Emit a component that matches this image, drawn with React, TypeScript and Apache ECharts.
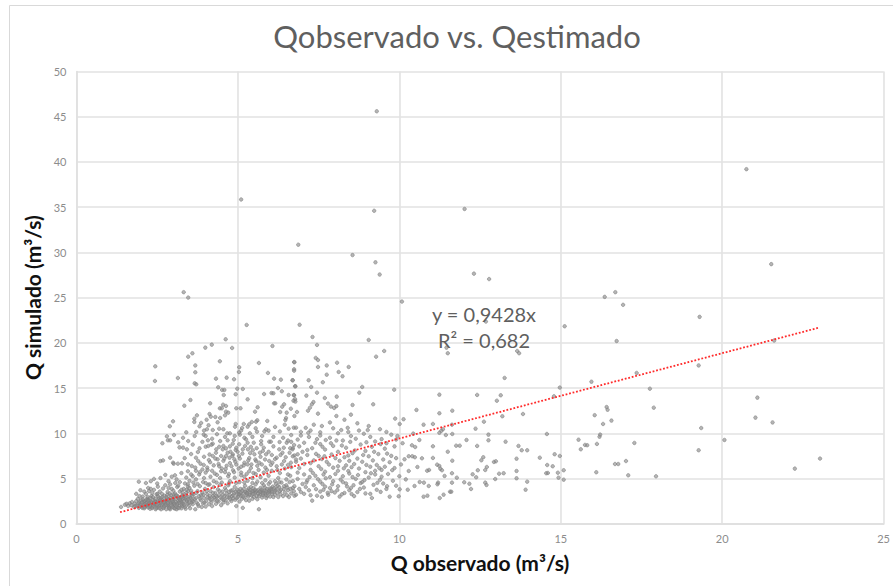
import React, { useEffect, useRef } from "react";
import * as echarts from "echarts";

type P = [number, number];

const chartTitle = "Qobservado vs. Qestimado";
const xAxisName = "Q observado (m³/s)";
const yAxisName = "Q simulado (m³/s)";
const equationLines = ["y = 0,9428x", "R² = 0,682"];
const trendLine: P[] = [[1.35, 1.27], [23.0, 21.68]];

const outliers: P[] = [[9.3,45.6],[5.1,35.85],[9.22,34.6],[6.87,30.85],[8.55,29.7],[9.26,28.9],[9.39,27.55],[3.32,25.6],[3.46,25],[12.02,34.8],[20.75,39.2],[12.31,27.65],[12.78,27.05],[21.52,28.7],[16.36,25.08],[16.69,25.6],[16.93,24.2],[19.3,22.87],[16.73,20.2],[21.61,20.25],[19.27,17.5],[17.35,16.67],[15.95,15.7],[17.76,14.93],[16.42,12.9],[16.45,12.6],[17.88,12.83],[16.05,12],[16.57,11.4],[16.31,11.03],[19.35,10.58],[16.22,9.85],[16.2,9.62],[16.12,8.82],[17.28,8.93],[19.27,8.12],[20.07,9.26],[16.68,6.6],[16.78,6.6],[17.02,6.93],[16.1,5.69],[17.09,5.35],[17.95,5.24],[21.09,13.94],[21.03,11.73],[21.56,11.2],[22.25,6.09],[23.03,7.2]];

const rightCloud: P[] = [[10.08,24.56],[6.91,22],[12.68,22.35],[15.12,21.83],[7.31,20.65],[7.45,19.77],[9.05,20.32],[9.53,19.1],[9.28,18.47],[11.46,19.47],[11.5,18.85],[13.65,19.1],[13.71,18.85],[7.41,18.33],[7.48,18.1],[6.74,17.88],[8.07,17.8],[7.75,17.5],[7.48,17.33],[6.74,17.08],[8.43,17.33],[8.12,16.78],[8.24,16.3],[7.75,16.48],[7.19,15.86],[6.69,15.86],[13.26,16.12],[7.63,15.64],[8.85,15.12],[6.77,15.2],[7.27,15.12],[9.84,14.82],[14.97,15.05],[14.79,14.09],[8.76,14.49],[7.45,14.49],[12.41,14.24],[11.24,14.27],[13.14,14.2],[7.12,14.16],[8.06,14.05],[7.69,13.9],[6.74,14.2],[6.77,13.77],[6.72,13.6],[13.02,13.6],[7.34,13.45],[7.29,13.2],[7.23,12.83],[7.17,12.5],[7.79,13.28],[7.88,12.95],[7.98,12.8],[8.05,13],[8.55,13.13],[9.19,13.2],[10.53,12.58],[11.64,12.5],[11.24,12.21],[13.83,12.13],[13.19,11.88],[7.48,12.17],[8.05,11.91],[8.5,12.06],[9.87,11.62],[10.13,11.55],[10.01,11.03],[10.75,10.95],[11.04,11.03],[12.62,11.28],[11.63,10.95],[12.36,10.51],[14.57,9.92],[12.76,9.85],[11.35,10.44],[11.3,10.27],[11.24,10.05],[11.44,9.81],[11.64,9.92],[10.43,9.96],[9.94,9.7],[10.62,9.26],[12.76,9.22],[12.08,9.26],[13.29,9.07],[15.55,9.29],[15.75,8.71],[15.62,8.23],[15.82,8.68],[13.69,8.6],[10.39,8.67],[10.49,8.48],[11.04,8.56],[11.76,8.63],[11.87,8.63],[12.41,8.6],[11.5,7.96],[13.79,8.12],[13.96,8.12],[14.81,7.68],[14.97,7.49],[14.35,7.3],[13.63,7.19],[12.6,7.35],[12.54,7.01],[12.93,6.83],[12.99,6.9],[10.16,7.12],[10.29,7.46],[10.4,7.46],[10.48,7.35],[10.7,7.23],[11.04,7.27],[11.64,6.97],[14.58,6.49],[14.75,6.35],[11.17,6.53],[11.24,6.38],[11.27,6.08],[11.32,5.91],[10.92,5.94],[10.86,5.86],[12.71,6.27],[12.66,5.94],[12.43,5.91],[15.09,5.91],[14.91,5.64],[14.6,5.61],[14.55,5.58],[13.63,5.83],[13.23,5.58],[13.09,5.53],[10.29,5.83],[10.56,6.27],[11.63,5.58],[12.27,5.46],[12.38,5.13],[13.63,5.02],[12.97,4.94],[11.78,5.09],[11.4,5.28],[11.2,4.54],[11.18,4.36],[11.63,4.54],[12.01,4.58],[12.17,4.42],[12.66,4.54],[12.7,4.28],[13.96,4.65],[13.91,3.76],[14.93,5.09],[15.09,4.87],[12.22,3.84],[10.91,4.17],[10.76,4.54],[10.63,4.61],[10.47,4.17],[10.26,3.76],[10.01,3.8],[9.98,3.03],[9.7,2.99],[10.75,2.99],[10.87,3.1],[11.25,2.84],[11.37,3.21],[11.57,3.54],[11.61,3.54]];

const midCloud: P[] = [[7.85,11.2],[8.3,11.5],[8.7,11.1],[9.05,10.8],[7.35,10.95],[7.6,10.8],[7.95,10.55],[8.4,10.6],[8.75,10.3],[9.4,10.45],[9.75,9.85],[7.1,10.6],[7.25,10.3],[6.95,10.15],[7.55,10.1],[8.1,10],[8.5,9.7],[8.9,9.95],[9.1,9.6],[9.45,9.35],[7.2,9.6],[7.45,9.35],[7.85,9.5],[8.25,9.2],[8.65,9.4],[9.25,9.1],[9.6,8.9],[9.9,9.3],[6.85,9.3],[7.05,8.95],[7.55,8.8],[7.95,8.6],[8.35,8.4],[8.8,8.75],[9.15,8.5],[9.55,8.3],[9.85,8.55],[10.1,8.9],[6.9,8.55],[7.3,8.35],[7.7,8.2],[8.1,7.95],[8.55,7.8],[8.95,8.05],[9.35,7.7],[9.75,7.5],[7,7.95],[7.15,7.6],[7.5,7.5],[7.9,7.65],[8.3,7.35],[8.7,7.2],[9.05,7.45],[9.5,7.1],[9.9,7.25],[6.95,7.2],[7.35,7],[7.75,6.85],[8.15,6.95],[8.6,6.6],[8.85,6.85],[9.3,6.5],[9.7,6.8],[10.05,6.55],[7.05,6.6],[7.5,6.35],[7.95,6.2],[8.35,6.45],[8.75,6.1],[9.1,6.3],[9.45,5.95],[9.85,6.15],[6.9,6.15],[7.25,5.95],[7.7,5.75],[8.1,5.85],[8.45,5.55],[8.95,5.7],[9.25,5.45],[9.65,5.5],[10,5.25],[7.05,5.45],[7.4,5.3],[7.85,5.15],[8.25,5.25],[8.65,4.95],[9.05,5.1],[9.4,4.85],[9.8,4.75],[10.2,4.9],[6.85,4.95],[7.15,4.8],[7.55,4.65],[7.95,4.7],[8.35,4.45],[8.8,4.5],[9.2,4.3],[9.5,4.45],[9.9,4.2],[7,4.4],[7.35,4.25],[7.7,4.1],[8.1,4.15],[8.5,3.95],[8.9,4],[9.3,3.75],[9.6,3.85],[6.9,3.85],[7.2,3.7],[7.55,3.55],[7.9,3.6],[8.3,3.4],[8.7,3.5],[9.1,3.3],[7.05,3.3],[7.45,3.1],[7.8,3.2],[8.15,3],[8.6,3.05],[9.15,2.85],[7.3,2.55],[7.6,2.95],[8,3.45],[8.45,3.7],[8.85,4.6],[7.65,5.45],[7.25,6.7],[7.6,7.15],[8.45,6.95],[8.1,6.35],[7.15,8.15],[7.4,8.95],[6.95,9.75],[7.55,9.75],[8.05,9.2],[6.85,5.65],[6.8,6.85],[6.75,7.55],[6.7,8.35],[6.65,9.05],[9.6,10.15],[8.2,10.35],[9.25,5.85],[8.55,5.15],[9.55,6.3],[7.85,3.95],[8.25,4.6],[7.1,4.05],[6.95,3.5],[7.65,3.75],[7.25,3.15],[6.8,3.2],[6.75,4.15],[6.7,4.7],[6.62,5.3]];

const midExtra: P[] = [[7.22,5.15],[7.48,4.92],[7.72,5.02],[7.92,4.35],[8.02,5.5],[8.18,4.88],[8.42,5.82],[8.58,4.25],[8.72,5.38],[8.92,4.82],[9.12,5.58],[9.32,4.52],[9.45,5.2],[9.62,4.15],[9.78,5.92],[7.12,4.55],[7.42,3.82],[7.62,4.38],[7.78,3.42],[8.08,3.72],[8.22,3.25],[8.38,4.12],[8.52,3.28],[8.78,3.85],[8.95,3.35],[9.42,3.52],[7.32,5.62],[7.58,6.05],[7.82,6.55],[8.28,6.12],[8.52,6.25],[8.98,6.5],[9.18,7],[9.38,6.15],[7.42,7.72],[7.68,7.45],[8.02,7.25],[8.42,7.55],[8.62,8.1],[8.88,7.6],[9.22,7.95],[9.62,7.75],[7.62,8.5],[7.88,8.9],[8.22,8.65],[8.48,9.05],[8.98,9],[9.42,8.8],[7.18,10.05],[7.72,9.25],[8.42,10.15],[9.02,10.35]];

const upperCloud: P[] = [[5.27,21.98],[4.62,20.39],[4.19,19.8],[3.99,19.47],[4.82,19.43],[6.07,19.65],[3.59,18.84],[3.46,18.47],[4.44,17.96],[5.65,17.77],[6.75,17.85],[2.44,17.4],[3.68,17.5],[5.04,17.3],[5.03,16.78],[3.68,16.74],[5.93,16.67],[6.74,16.92],[3.14,16.11],[4.32,16.04],[4.65,16.15],[4.88,15.97],[6.12,16.04],[6.33,15.93],[6.7,15.86],[2.43,15.78],[3.66,15.52],[3.71,15.41],[4.39,15.08],[4.98,14.93],[5.15,14.9],[6.24,15],[6.78,15.19],[4.51,14.79],[4.58,14.79],[6.36,14.64],[6.04,14.45],[6.1,14.42],[4.56,14.23],[4.93,14.31],[5.81,14.34],[6.57,14.23],[6.73,14.23],[5.3,13.75],[3.53,13.68],[6.12,13.31],[6.16,13.31],[6.78,13.5],[4.14,13.31],[3.34,13.05],[4.54,13.16],[4.63,13.02],[6.43,13.2],[6.37,12.94],[5.61,12.87],[4.44,12.76],[4.5,12.76],[4.95,12.76],[5.08,12.76],[5.53,12.39],[6.31,12.35],[6.51,12.28],[6.64,12.72],[6.83,12.35],[4.12,12.13],[3.73,11.98],[4.63,12.39],[4.7,12.28],[4.6,11.98],[4.16,11.84],[4.3,11.8],[4.03,11.5],[3.65,11.61],[3.65,11.25],[2.99,11.32],[4.45,11.69],[5.91,11.36],[5.6,11.43],[5.56,11.28],[5.43,11.25],[6.49,11.69],[6.47,11.47],[6.75,11.91],[2.89,10.77],[3.86,11.14],[3.81,10.77],[4.09,10.88],[4.04,10.44],[4.37,11.21],[4.22,10.36],[4.93,11.03],[4.91,10.73],[5.18,11.03],[5.13,10.58],[5.35,10.99],[5.3,10.73],[6.57,10.51],[6.73,10.62],[6.8,10.62],[5.87,10.44],[5.82,10.21],[5.95,10.29],[4.42,10.51],[4.55,10.44],[4.75,9.99],[4.67,9.99],[5.06,9.85],[5.04,10.07],[5.37,9.99],[5.59,10.18],[3.71,10.14],[3.66,9.7],[2.8,9.66],[3.02,9.81],[3.94,9.85],[4,9.7],[2.83,9.22],[2.9,9.22],[2.66,8.89],[3.46,9.14],[4.07,9.22],[4.45,9.14],[4.68,9.22],[4.22,8.85],[4.87,9.26],[4.84,8.85],[5.04,8.78],[5.25,9.33],[5.3,8.96],[5.49,8.96],[5.72,9.14],[5.72,8.78],[5.97,9.07],[6.02,9.07],[6.29,9.03],[6.51,8.96],[6.74,8.7],[6.69,8.22],[3.19,8.44],[3.3,8.41],[3.42,8.22],[4,8.52],[4.08,8.59],[4.18,8.74],[3.81,8.33],[3.76,7.93],[4.33,8.22],[4.53,8.22],[4.63,8.33],[4.99,7.96],[4.93,8.15],[4.77,7.96],[4.84,7.67],[5.15,8.22],[5.31,8.22],[5.77,8.04],[5.87,7.67],[5.46,8.11],[5.51,7.67],[6.28,8.22],[6.38,7.85],[6.6,7.85],[6.85,7.67],[2.9,7.3],[2.6,6.93],[2.68,7],[3.14,6.64],[3.27,6.67],[2.99,6.75],[3.01,6.64],[3.45,6.56],[3.57,6.38],[3.77,6.93],[3.84,6.64],[4.1,7.04],[4.22,7.49],[4.37,7.12],[4.48,7.49],[4.63,7.49],[4.74,7.3],[4.89,7.12],[5.03,7.49],[5.2,6.75],[5.3,6.56],[5.56,6.93],[5.66,6.75],[5.97,6.93],[6.07,6.75],[6.43,6.93],[6.64,6.75],[6.8,7.1],[6.2,7.3],[6.05,7.6],[5.7,7.4],[5.35,7.25],[4.55,6.95],[4.4,6.6],[4.65,6.4],[4.25,6.45],[4.05,6.2],[3.9,6],[4.5,6.1],[4.75,6.7],[4.95,6.55],[5.1,6.3],[5.4,6.15],[5.6,6.4],[5.85,6.2],[6.2,6.35],[6.45,6.1],[6.65,6.25],[3.7,5.85],[3.45,5.8],[3.25,5.6],[3.05,5.35],[2.95,5.2],[2.75,5.4],[2.6,5.05],[2.4,4.95],[1.93,4.65],[2.3,4.7],[2.15,4.5],[2.5,4.45],[2.85,4.7],[3.1,4.9],[3.4,5.1],[3.6,5.25],[3.8,5.45],[4,5.65],[4.2,5.85],[4.35,5.4],[4.6,5.7],[4.85,5.9],[5.1,5.65],[5.35,5.8],[5.55,5.5],[5.8,5.65],[6.05,5.85],[6.3,5.6],[6.55,5.45],[3.2,4.6],[3.5,4.75],[3.7,4.9],[3.95,5.05],[4.15,5.2],[4.45,5.05],[4.7,5.25],[4.9,5.1],[5.2,5.2],[5.45,5.05],[5.7,5.15],[5.95,5.3],[6.25,5.05],[6.5,4.9],[6.15,4.7],[5.85,4.8],[5.6,4.65],[5.3,4.75],[5.05,4.6],[4.75,4.7],[4.5,4.55],[4.25,4.7],[4,4.5],[3.75,4.4],[3.45,4.35],[3.15,4.2],[2.9,4.35]];

const lowerBand: P[] = [[1.38,1.85],[1.5,2.1],[1.55,2.2],[1.6,1.95],[1.65,2.25],[1.7,2.05],[1.72,2.4],[1.78,1.85],[1.8,2.2],[1.85,2.5],[1.88,2],[1.9,2.75],[1.93,1.75],[1.95,2.35],[2,2.6],[2.02,1.9],[2.05,3],[2.08,2.2],[2.1,1.7],[2.12,2.5],[2.15,3.3],[2.18,1.95],[2.2,2.75],[2.22,2.1],[2.25,3.6],[2.28,1.65],[2.3,2.4],[2.32,3.05],[2.35,1.85],[2.38,2.65],[2.4,3.75],[2.42,2.1],[2.45,1.6],[2.48,3.25],[2.5,2.4],[2.52,1.85],[2.55,2.85],[2.58,3.55],[2.6,2.05],[2.62,1.6],[2.65,2.6],[2.68,3.9],[2.7,1.85],[2.72,3.1],[2.75,2.25],[2.78,1.6],[2.8,2.8],[2.82,3.5],[2.85,1.95],[2.88,2.45],[2.9,1.6],[2.92,3.15],[2.95,3.85],[2.98,2.15],[3,2.7],[3.02,1.75],[3.05,3.35],[3.08,2.4],[3.1,1.6],[3.12,4.05],[3.15,2.9],[3.18,2],[3.2,3.55],[3.22,2.55],[3.25,1.7],[3.28,3.15],[3.3,2.2],[3.32,3.85],[3.35,2.75],[3.38,1.65],[3.4,3.4],[3.42,2.45],[3.45,4.1],[3.48,2],[3.5,3],[3.52,1.7],[3.55,3.65],[3.58,2.6],[3.6,2.15],[3.62,3.25],[3.65,4.2],[3.68,1.6],[3.7,2.85],[3.72,2.35],[3.75,3.6],[3.78,1.95],[3.8,3.05],[3.82,4.15],[3.85,2.6],[3.88,1.85],[3.9,3.45],[3.92,2.25],[3.95,2.85],[3.98,3.85],[4,1.9],[4.02,2.5],[4.05,3.25],[4.08,4.3],[4.1,2.15],[4.12,2.8],[4.15,3.6],[4.18,2.4],[4.2,1.95],[4.22,3.05],[4.25,4.05],[4.28,2.65],[4.3,3.4],[4.32,2.2],[4.35,2.95],[4.38,3.8],[4.4,2.45],[4.42,3.2],[4.45,4.3],[4.48,2.05],[4.5,2.75],[4.52,3.55],[4.55,2.35],[4.58,3.05],[4.6,3.95],[4.62,2.6],[4.65,3.35],[4.68,2.25],[4.7,4.25],[4.72,2.9],[4.75,3.2],[4.78,3.65],[4.8,2.5],[4.82,3.05],[4.85,2.8],[4.88,3.4],[4.9,4.05],[4.92,2.65],[4.95,1.95],[4.98,3.25],[5,2.95],[5.02,3.55],[5.05,2.45],[5.08,3.85],[5.1,3.1],[5.12,2.75],[5.15,1.75],[5.18,3.4],[5.2,2.9],[5.22,4.2],[5.25,2.6],[5.28,3.2],[5.3,3.7],[5.32,3],[5.35,2.55],[5.38,3.45],[5.4,4.05],[5.42,3.15],[5.45,2.75],[5.48,3.6],[5.5,2.95],[5.52,3.35],[5.55,4.35],[5.58,3.05],[5.6,2.7],[5.62,3.7],[5.65,1.6],[5.68,3.25],[5.7,3.95],[5.72,3.5],[5.75,2.9],[5.78,3.15],[5.8,4.25],[5.82,3.65],[5.85,3.35],[5.88,2.85],[5.9,3.85],[5.92,3.1],[5.95,4.4],[5.98,3.45],[6,3],[6.02,3.75],[6.05,3.3],[6.08,4.1],[6.1,2.95],[6.12,3.55],[6.15,3.2],[6.18,4.4],[6.2,3.8],[6.22,3.4],[6.25,2.95],[6.28,4.05],[6.3,3.6],[6.32,3.25],[6.35,4.55],[6.4,3.05],[6.42,3.85],[6.45,3.45],[6.5,4.25],[6.52,3.15],[6.55,3.7],[6.58,2.95],[6.6,4.6],[6.65,3.35],[6.7,3.95],[6.75,3.1],[2.2,2.95],[2.35,3.4],[2.52,3.05],[2.65,3.3],[2.78,2.55],[2.92,2.3],[3.05,2.05],[3.18,2.75],[3.28,1.95],[3.38,2.95],[2.18,2.35],[2.28,2.05],[2.42,2.5],[2.55,1.95],[2.68,2.2],[2.82,2.05],[2.98,1.85],[3.12,2.25],[3.25,2.4],[1.98,2.15],[2.08,2.45],[2.22,1.8],[2.32,2.3],[2.48,1.75],[2.58,2.35],[2.72,1.95],[2.86,2.7],[3,2.35],[3.14,1.8],[1.82,1.95],[1.92,2.25],[2.04,1.75],[2.14,2.05],[2.26,2.55],[2.38,1.95],[2.46,2.2],[2.62,2.85],[2.74,2.45],[2.88,1.8],[3.02,2.95],[3.16,2.55],[3.3,2.8],[3.44,2.2],[3.56,2.35],[3.66,2.7],[3.76,2.15],[3.86,3.15],[3.96,2.35],[4.06,2.9],[4.16,2.65],[4.26,2.9],[4.36,2.55],[4.46,2.9],[4.56,2.65],[4.66,2.95],[4.76,2.7],[4.86,3.15],[4.96,2.85],[5.06,3.25],[5.16,3],[5.26,3.45],[5.36,3.2],[5.46,3.3],[5.56,3.5],[5.66,3.05],[5.76,3.6],[5.86,3.15],[5.96,3.6],[6.06,3.5],[6.16,3.7],[4.94,4.5],[4.72,4.45],[4.34,4.55],[4.12,4.35],[3.92,4.6],[3.62,4.55],[3.36,4.45],[3.06,4.5],[2.75,4.25],[2.52,4.1],[2.22,3.95],[1.98,3.7],[1.85,3.3],[1.95,3.05],[2.1,3.55],[2.3,3.85],[5.2,4.55],[5.45,4.5],[5.75,4.5],[6,4.6],[6.28,4.6],[3.5,3.95],[3.25,3.75],[3,3.65],[2.85,3.95]];

const denseCore: P[] = [[1.95,1.95],[2.03,2.35],[2.11,1.85],[2.16,2.65],[2.24,2.3],[2.29,2.85],[2.34,1.72],[2.39,2.25],[2.44,2.75],[2.49,2.05],[2.53,2.55],[2.57,1.72],[2.61,2.3],[2.66,2.98],[2.69,1.72],[2.73,2.62],[2.77,2.1],[2.81,3.2],[2.84,2.35],[2.87,1.7],[2.91,2.85],[2.94,2.05],[2.97,2.5],[3.01,3.2],[3.04,1.68],[3.07,2.72],[3.11,2.1],[3.13,3.05],[3.17,1.72],[3.19,2.35],[3.23,2.9],[3.26,2.12],[3.29,3.45],[3.33,2.5],[3.36,1.85],[3.39,3.15],[3.43,2.65],[3.46,3.6],[3.49,2.35],[3.53,2.85],[3.57,3.35],[3.61,2.48],[2.05,2.7],[2.13,2.18],[2.21,2.55],[2.27,1.92],[2.37,2.95],[2.45,2.38],[2.51,3.3],[2.59,2.6],[2.64,2.12],[2.71,2.4],[2.79,2.95],[2.83,2.25],[2.89,3.35],[2.96,2.68],[3.03,2.2],[3.09,3.15],[3.21,2.62],[3.27,3],[3.34,2.08],[3.41,3.75],[3.47,2.72],[3.59,3.05],[3.71,3.4],[3.83,2.78],[3.93,3.2],[4.03,3.6],[4.13,3.1],[4.23,3.4],[4.33,3.05],[4.43,3.6],[4.53,3.2],[4.63,3.7],[4.73,3.5],[4.83,3.7],[4.93,3.55],[5.03,3.25],[5.13,3.65],[5.23,3.5],[5.33,3.9],[5.43,3.6],[5.53,3.75],[5.63,3.35],[5.73,3.75],[5.83,4],[5.93,3.45],[6.03,3.9],[6.13,3.95],[6.23,4.2],[6.33,3.75],[6.43,4.15],[6.53,4],[6.63,3.85],[6.73,3.6],[4.98,3.75],[5.08,3.45],[5.18,3.85],[5.28,3.35],[5.38,3.7],[5.48,3.95],[5.58,3.65],[5.68,3.55],[5.78,3.35],[5.88,3.6],[5.98,3.9]];

const centerFill: P[] = [[3.55,5.45],[3.68,6.2],[3.82,5.7],[3.94,6.5],[4.06,5.95],[4.14,6.8],[4.28,5.55],[4.3,7.2],[4.42,6.35],[4.48,5.8],[4.58,7.2],[4.62,6.05],[4.68,7.85],[4.72,5.5],[4.8,6.35],[4.83,7.5],[4.88,5.7],[4.92,6.85],[4.95,8.4],[5.02,6.1],[5.06,7.2],[5.1,5.35],[5.14,7.75],[5.18,6.45],[5.22,8.6],[5.27,5.5],[5.32,7],[5.38,7.8],[5.42,6.55],[5.48,5.6],[5.54,7.1],[5.58,8.35],[5.64,5.95],[5.68,7.85],[5.74,6.55],[5.8,8.4],[5.84,7.1],[5.9,5.95],[5.95,7.95],[6.02,6.5],[6.1,8.55],[6.15,7.15],[6.22,5.95],[6.32,7.6],[6.36,6.55],[6.42,8.4],[6.48,7.35],[6.55,6.5],[6.62,8.35],[6.7,7.45],[4.12,7.65],[3.95,7.4],[3.7,7.3],[3.55,7.7],[3.35,7.25],[4.32,7.85],[4.55,8.6],[4.2,9.4],[4.6,9.6],[4.9,9.7],[5.2,9.5],[5.45,9.6],[5.75,9.7],[6.1,9.6],[6.4,9.5],[6.65,9.8],[4.35,9.9],[5.1,10.3],[5.55,10.55],[6.3,10.2],[3.95,10.3],[3.4,10.1],[3.3,9.5],[3.15,9],[3.6,8.75],[3.9,9.05],[4.42,8.5],[4.75,8.55],[5.4,8.5],[6.55,9.2],[6.15,10.7],[6.45,10.95]];

const points: P[] = [...outliers, ...rightCloud, ...midCloud, ...midExtra, ...upperCloud, ...lowerBand, ...denseCore, ...centerFill];

export default function App() {
  const ref = useRef<HTMLDivElement>(null);
  useEffect(() => {
    const chart = echarts.init(ref.current!, undefined, { renderer: "svg" });
    const font = "Lato, Carlito, sans-serif";
    const gridLine = { lineStyle: { color: "#e2e2e2", width: 1.6 } };
    chart.setOption({
      animation: false,
      backgroundColor: "#ffffff",
      title: {
        text: chartTitle,
        left: 452,
        top: 15,
        textAlign: "center",
        textStyle: { fontFamily: font, fontSize: 31, fontWeight: 400, color: "#5f5f5f" },
      },
      grid: { left: 76.5, right: 6.5, top: 71.5, bottom: 62.3, containLabel: false },
      xAxis: {
        type: "value",
        min: 0,
        max: 25,
        interval: 5,
        name: xAxisName,
        nameLocation: "middle",
        nameGap: 28,
        nameTextStyle: { fontFamily: font, fontSize: 21, fontWeight: 700, color: "#111111" },
        axisLine: { lineStyle: { color: "#e0e0e0", width: 2 } },
        axisTick: { show: false },
        axisLabel: { fontFamily: font, fontSize: 11, color: "#8c8c8c", margin: 9, showMaxLabel: true },
        splitLine: { show: true, ...gridLine },
      },
      yAxis: {
        type: "value",
        min: 0,
        max: 50,
        interval: 5,
        name: yAxisName,
        nameLocation: "middle",
        nameGap: 27,
        nameRotate: 90,
        nameTextStyle: { fontFamily: font, fontSize: 21, fontWeight: 700, color: "#111111" },
        axisLine: { show: true, lineStyle: { color: "#e0e0e0", width: 1.6 } },
        axisTick: { show: false },
        axisLabel: { fontFamily: font, fontSize: 11, color: "#8c8c8c", margin: 10 },
        splitLine: { show: true, ...gridLine },
      },
      series: [
        {
          type: "scatter",
          data: points,
          symbol: "circle",
          symbolSize: 3.5,
          itemStyle: { color: "rgba(140,140,140,0.8)", borderColor: "#7d7d7d", borderWidth: 0.7 },
          z: 3,
        },
        {
          type: "line",
          data: trendLine,
          symbol: "none",
          lineStyle: { color: "#ff2a2a", width: 1.8, type: [1.8, 1.8] },
          z: 4,
        },
      ],
      graphic: [
        { type: "line", silent: true, shape: { x1: 9.5, y1: 5.5, x2: 893, y2: 5.5 }, style: { stroke: "#d9d9d9", lineWidth: 1 } },
        { type: "line", silent: true, shape: { x1: 9.5, y1: 5.5, x2: 9.5, y2: 586 }, style: { stroke: "#d9d9d9", lineWidth: 1 } },
        { type: "text", silent: true, z: 10, x: 484, y: 314, style: { text: equationLines[0], fontFamily: font, fontSize: 20, fill: "#5f5f5f", align: "center", verticalAlign: "middle" } },
        { type: "text", silent: true, z: 10, x: 484, y: 340, style: { text: equationLines[1], fontFamily: font, fontSize: 20, fill: "#5f5f5f", align: "center", verticalAlign: "middle" } },
      ],
    });
    return () => chart.dispose();
  }, []);
  return <div ref={ref} style={{ position: "absolute", left: 0, top: 0, width: 893, height: 586 }} />;
}
